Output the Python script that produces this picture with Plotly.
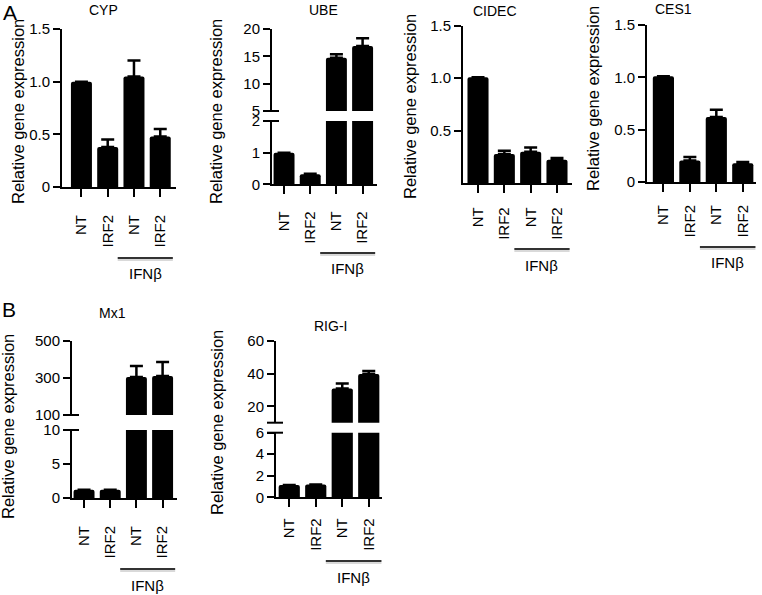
import plotly.graph_objects as go

# ---------------- data ----------------
categories = ["NT", "IRF2", "NT", "IRF2"]

cyp_mean = [1.0, 0.38, 1.05, 0.48]
cyp_upper = [1.0, 0.45, 1.20, 0.55]

ube_mean = [1.0, 0.32, 14.75, 16.9]
ube_upper = [1.0, 0.33, 15.4, 18.3]

cidec_mean = [1.01, 0.28, 0.30, 0.225]
cidec_upper = [1.01, 0.31, 0.34, 0.24]

ces1_mean = [1.01, 0.205, 0.62, 0.18]
ces1_upper = [1.01, 0.24, 0.69, 0.19]

mx1_mean = [1.2, 1.2, 305, 311]
mx1_upper = [1.2, 1.2, 365, 386]

rigi_mean = [1.15, 1.2, 31, 39.8]
rigi_upper = [1.15, 1.2, 34, 41.6]

cyp_ticks = [0, 0.5, 1.0, 1.5]
cyp_ticktext = ["0", "0.5", "1.0", "1.5"]
ube_ticks_low = [0, 1, 2]
ube_ticks_high = [5, 10, 15, 20]
cidec_ticks = [0.5, 1.0, 1.5]
cidec_ticktext = ["0.5", "1.0", "1.5"]
ces1_ticks = [0, 0.5, 1.0, 1.5]
ces1_ticktext = ["0", "0.5", "1.0", "1.5"]
mx1_ticks_low = [0, 5, 10]
mx1_ticks_high = [100, 300, 500]
rigi_ticks_low = [0, 2, 4, 6]
rigi_ticks_high = [20, 40, 60]

panel_titles = ["CYP", "UBE", "CIDEC", "CES1", "Mx1", "RIG-I"]
ytitle = "Relative gene expression"
group_label = "IFNβ"

# ---------------- layout helpers ----------------
W, H = 762, 595
FONT = "Liberation Sans, Arial, sans-serif"


def fx(px):
    return px / W


def fy(py):
    return 1 - py / H


panels = [
    dict(name=panel_titles[0], mean=cyp_mean, upper=cyp_upper,
         x=(62, 176), xr=[-0.74, 3.6],
         low=((29, 187), [0, 1.5], cyp_ticks, cyp_ticktext), high=None,
         title=(103.5, 10), yt=(18, 112), line_y=258, text_y=274, standoff=12),
    dict(name=panel_titles[1], mean=ube_mean, upper=ube_upper,
         x=(272, 377), xr=[-0.46, 3.55],
         low=((121, 184.3), [0, 2], ube_ticks_low, [str(v) for v in ube_ticks_low]),
         high=((29, 111), [5, 20], ube_ticks_high, [str(v) for v in ube_ticks_high]),
         title=(323.5, 10), yt=(216, 112), line_y=253, text_y=268, standoff=11),
    dict(name=panel_titles[2], mean=cidec_mean, upper=cidec_upper,
         x=(463, 572), xr=[-0.57, 3.57],
         low=((25.7, 183.3), [0, 1.5], cidec_ticks, cidec_ticktext), high=None,
         title=(495, 10.5), yt=(410, 107), line_y=249, text_y=265, standoff=8),
    dict(name=panel_titles[3], mean=ces1_mean, upper=ces1_upper,
         x=(647, 756), xr=[-0.62, 3.5],
         low=((25, 182), [0, 1.5], ces1_ticks, ces1_ticktext), high=None,
         title=(673, 9), yt=(593, 99), line_y=247, text_y=262, standoff=7),
    dict(name=panel_titles[4], mean=mx1_mean, upper=mx1_upper,
         x=(72, 177), xr=[-0.46, 3.55],
         low=((430, 498), [0, 10], mx1_ticks_low, [str(v) for v in mx1_ticks_low]),
         high=((341, 415), [100, 500], mx1_ticks_high, [str(v) for v in mx1_ticks_high]),
         title=(112, 313), yt=(8, 427), line_y=569, text_y=585, standoff=12),
    dict(name=panel_titles[5], mean=rigi_mean, upper=rigi_upper,
         x=(276, 382), xr=[-0.5, 3.5],
         low=((432.7, 497.3), [0, 6], rigi_ticks_low, [str(v) for v in rigi_ticks_low]),
         high=((341, 422.7), [10, 60], rigi_ticks_high, [str(v) for v in rigi_ticks_high]),
         title=(330, 326), yt=(217, 422), line_y=561, text_y=577, standoff=5),
]

fig = go.Figure()
layout = {}
shapes = []
annotations = []

xpos = list(range(len(categories)))
ax_i = 0
y_i = 0

for p in panels:
    ax_i += 1
    xname = "x" if ax_i == 1 else f"x{ax_i}"
    xkey = "xaxis" if ax_i == 1 else f"xaxis{ax_i}"
    plus = [max(u - m, 0) for m, u in zip(p["mean"], p["upper"])]

    sections = [("low", p["low"])]
    if p["high"] is not None:
        sections.append(("high", p["high"]))

    low_yname = None
    for kind, sec in sections:
        y_i += 1
        yname = "y" if y_i == 1 else f"y{y_i}"
        ykey = "yaxis" if y_i == 1 else f"yaxis{y_i}"
        (ytop, ybot), yr, tv, tt = sec
        if kind == "low":
            low_yname = yname
        fig.add_trace(go.Bar(
            x=xpos, y=p["mean"], xaxis=xname, yaxis=yname, width=0.8,
            marker=dict(color="black", line=dict(width=0), cornerradius=2),
            error_y=dict(type="data", symmetric=False, array=plus,
                         arrayminus=[0] * len(plus), color="black",
                         thickness=2.5, width=6.5),
            hoverinfo="skip", showlegend=False,
        ))
        layout[ykey] = dict(
            domain=[fy(ybot), fy(ytop)], range=yr, anchor=xname,
            tickmode="array", tickvals=tv, ticktext=tt,
            showline=True, linecolor="black", linewidth=2,
            ticks="outside", ticklen=7, tickwidth=2, tickcolor="black",
            showgrid=False, zeroline=False, automargin=False,
            tickfont=dict(family=FONT, size=15, color="black"),
        )
        # break marks
        ax_px = p["x"][0]
        if p["high"] is not None:
            yy = 0 if kind == "high" else 1
            shapes.append(dict(type="line", xref="paper", yref=f"{yname} domain",
                               x0=fx(ax_px - 9), x1=fx(ax_px + 7), y0=yy, y1=yy,
                               line=dict(color="black", width=2)))

    layout[xkey] = dict(
        domain=[fx(p["x"][0]), fx(p["x"][1])], range=p["xr"], anchor=low_yname,
        tickmode="array", tickvals=xpos, ticktext=categories, tickangle=-90,
        showline=True, linecolor="black", linewidth=2,
        ticks="outside", ticklen=8, tickwidth=2, tickcolor="black",
        showgrid=False, zeroline=False, ticklabelstandoff=p["standoff"],
        automargin=False,
        tickfont=dict(family=FONT, size=15, color="black"),
    )

    # IFNβ group line + label
    shapes.append(dict(type="line", xref=xname, yref="paper",
                       x0=1.38, x1=3.48, y0=fy(p["line_y"] + 2), y1=fy(p["line_y"] + 2),
                       line=dict(color="rgba(0,0,0,0.15)", width=2)))
    shapes.append(dict(type="line", xref=xname, yref="paper",
                       x0=1.38, x1=3.48, y0=fy(p["line_y"]), y1=fy(p["line_y"]),
                       line=dict(color="#333333", width=2)))
    annotations.append(dict(text=group_label, xref=xname, yref="paper",
                            x=2.43, y=fy(p["text_y"]), showarrow=False,
                            xanchor="center", yanchor="middle",
                            font=dict(family=FONT, size=15, color="black")))
    # title
    annotations.append(dict(text=p["name"], xref="paper", yref="paper",
                            x=fx(p["title"][0]), y=fy(p["title"][1]), showarrow=False,
                            xanchor="center", yanchor="middle",
                            font=dict(family=FONT, size=14, color="black")))
    # y-axis title
    annotations.append(dict(text=ytitle, xref="paper", yref="paper",
                            x=fx(p["yt"][0]), y=fy(p["yt"][1]), showarrow=False,
                            textangle=-90, xanchor="center", yanchor="middle",
                            font=dict(family=FONT, size=16.5, color="black")))

# panel letters
annotations.append(dict(text="A", xref="paper", yref="paper", x=fx(10), y=fy(12),
                        showarrow=False, xanchor="center", yanchor="middle",
                        font=dict(family=FONT, size=21, color="black")))
annotations.append(dict(text="B", xref="paper", yref="paper", x=fx(9), y=fy(309),
                        showarrow=False, xanchor="center", yanchor="middle",
                        font=dict(family=FONT, size=21, color="black")))

fig.update_layout(**layout)
fig.update_layout(
    template="none",
    width=W, height=H, margin=dict(l=0, r=0, t=0, b=0, pad=0),
    paper_bgcolor="white", plot_bgcolor="white",
    showlegend=False, shapes=shapes, annotations=annotations,
    font=dict(family=FONT, color="black"), barmode="overlay",
)

fig.write_html("out.html", config={"displayModeBar": False},
               post_script="document.body.style.margin='0px';document.body.style.overflow='hidden';")
